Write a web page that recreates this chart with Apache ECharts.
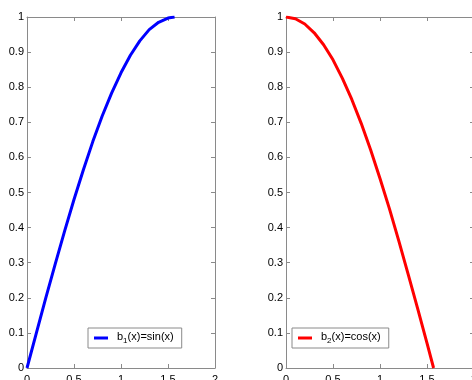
<!DOCTYPE html>
<html>
<head>
<meta charset="utf-8">
<script src="https://cdn.jsdelivr.net/npm/echarts@6/dist/echarts.min.js"></script>
<style>
  html, body { margin: 0; padding: 0; background: #fff; }
  #chart { width: 472px; height: 380px; }
</style>
</head>
<body>
<div id="chart"></div>
<script>
// sample points
const xs = [0, 0.1, 0.2, 0.3, 0.4, 0.5, 0.6, 0.7, 0.8, 0.9, 1.0, 1.1, 1.2, 1.3, 1.4, 1.5, 1.57];
const sinVals = [0, 0.1, 0.2, 0.296, 0.39, 0.48, 0.565, 0.645, 0.718, 0.783, 0.841, 0.891, 0.932, 0.964, 0.985, 0.997, 1.0];
const cosVals = [1, 0.995, 0.98, 0.955, 0.921, 0.878, 0.825, 0.765, 0.697, 0.622, 0.54, 0.454, 0.362, 0.267, 0.17, 0.071, 0.0];
const seriesNames = ['b1(x)=sin(x)', 'b2(x)=cos(x)'];
const xTicks = { min: 0, max: 2, interval: 0.5 };
const yTicks = { min: 0, max: 1, interval: 0.1 };

const axisColor = '#8a8a8a';
const fontFamily = 'Liberation Sans, Arial, sans-serif';

const chart = echarts.init(document.getElementById('chart'));

// grids run past the bottom / right edge like the cropped original
const grids = [
  { left: 27, top: 17, width: 188, height: 351, outerBoundsMode: 'none', containLabel: false },
  { left: 286, top: 17, width: 188, height: 351, outerBoundsMode: 'none', containLabel: false }
];

function xAxisFor(gi, pos, showLabel) {
  return {
    type: 'value', gridIndex: gi, position: pos,
    min: xTicks.min, max: xTicks.max, interval: xTicks.interval,
    axisLine: { show: true, onZero: false, lineStyle: { color: axisColor, width: 1 } },
    axisTick: { show: true, inside: true, length: 4, lineStyle: { color: axisColor } },
    axisLabel: { show: showLabel, color: '#000', fontSize: 11, fontFamily, margin: 6 },
    splitLine: { show: false }
  };
}
function yAxisFor(gi, pos, showLabel) {
  return {
    type: 'value', gridIndex: gi, position: pos,
    min: yTicks.min, max: yTicks.max, interval: yTicks.interval,
    axisLine: { show: true, onZero: false, lineStyle: { color: axisColor, width: 1 } },
    axisTick: { show: true, inside: true, length: 4, lineStyle: { color: axisColor } },
    axisLabel: { show: showLabel, color: '#000', fontSize: 11, fontFamily, margin: 3 },
    splitLine: { show: false }
  };
}

const rich = {
  a: { fontSize: 11, fontFamily, color: '#000', lineHeight: 14, verticalAlign: 'top' },
  s: { fontSize: 8, fontFamily, color: '#000', lineHeight: 14, verticalAlign: 'bottom', padding: [5, 0, 0, 0] }
};
function legendFormatter(name) {
  return '{a|' + name[0] + '}{s|' + name[1] + '}{a|' + name.slice(2) + '}';
}
function legendAt(left, name) {
  return {
    data: [name], left: left, top: 328, orient: 'horizontal',
    backgroundColor: '#fff', borderColor: axisColor, borderWidth: 1, borderRadius: 0,
    padding: [3, 8, 3, 6], itemWidth: 14, itemHeight: 3, itemGap: 0,
    icon: 'rect', formatter: legendFormatter,
    textStyle: { rich: rich, padding: [0, 0, 0, 4] }
  };
}

chart.setOption({
  backgroundColor: '#fff',
  animation: false,
  grid: grids,
  xAxis: [
    xAxisFor(0, 'bottom', true), xAxisFor(0, 'top', false),
    xAxisFor(1, 'bottom', true), xAxisFor(1, 'top', false)
  ],
  yAxis: [
    yAxisFor(0, 'left', true), yAxisFor(0, 'right', false),
    yAxisFor(1, 'left', true), yAxisFor(1, 'right', false)
  ],
  legend: [legendAt(88, seriesNames[0]), legendAt(292, seriesNames[1])],
  series: [
    {
      name: seriesNames[0], type: 'line', xAxisIndex: 0, yAxisIndex: 0,
      data: xs.map((x, i) => [x, sinVals[i]]),
      showSymbol: false, symbol: 'none', color: '#0000ff',
      lineStyle: { width: 3, color: '#0000ff' }
    },
    {
      name: seriesNames[1], type: 'line', xAxisIndex: 2, yAxisIndex: 2,
      data: xs.map((x, i) => [x, cosVals[i]]),
      showSymbol: false, symbol: 'none', color: '#ff0000',
      lineStyle: { width: 3, color: '#ff0000' }
    }
  ]
});
</script>
</body>
</html>
